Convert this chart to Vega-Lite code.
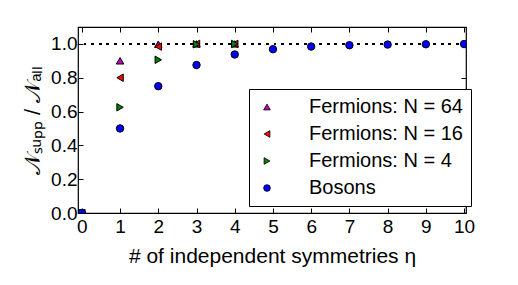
{
  "$schema": "https://vega.github.io/schema/vega-lite/v6.json",
  "autosize": "none",
  "width": 388,
  "height": 186,
  "padding": {"left": 78, "top": 27, "right": 52, "bottom": 72},
  "background": "white",
  "config": {
    "view": {"stroke": "black", "strokeWidth": 1.2},
    "font": "Liberation Sans",
    "axis": {
      "labelFont": "Liberation Sans",
      "titleFont": "Liberation Sans",
      "labelFontSize": 19,
      "titleFontSize": 21,
      "labelColor": "black",
      "titleColor": "black",
      "titleFontWeight": "normal",
      "domain": false,
      "grid": false,
      "tickColor": "black",
      "tickSize": -5,
      "tickWidth": 1
    }
  },
  "data": {
    "values": [
      {"eta": 0, "frac": 0, "series": "Fermions: N = 64"},
      {"eta": 1, "frac": 0.9, "series": "Fermions: N = 64"},
      {"eta": 2, "frac": 0.998, "series": "Fermions: N = 64"},
      {"eta": 3, "frac": 1.0, "series": "Fermions: N = 64"},
      {"eta": 4, "frac": 1.0, "series": "Fermions: N = 64"},
      {"eta": 0, "frac": 0, "series": "Fermions: N = 16"},
      {"eta": 1, "frac": 0.8, "series": "Fermions: N = 16"},
      {"eta": 2, "frac": 0.984, "series": "Fermions: N = 16"},
      {"eta": 3, "frac": 1.0, "series": "Fermions: N = 16"},
      {"eta": 4, "frac": 1.0, "series": "Fermions: N = 16"},
      {"eta": 0, "frac": 0, "series": "Fermions: N = 4"},
      {"eta": 1, "frac": 0.625, "series": "Fermions: N = 4"},
      {"eta": 2, "frac": 0.906, "series": "Fermions: N = 4"},
      {"eta": 3, "frac": 0.998, "series": "Fermions: N = 4"},
      {"eta": 4, "frac": 1.0, "series": "Fermions: N = 4"},
      {"eta": 0, "frac": 0, "series": "Bosons"},
      {"eta": 1, "frac": 0.5, "series": "Bosons"},
      {"eta": 2, "frac": 0.75, "series": "Bosons"},
      {"eta": 3, "frac": 0.875, "series": "Bosons"},
      {"eta": 4, "frac": 0.9375, "series": "Bosons"},
      {"eta": 5, "frac": 0.96875, "series": "Bosons"},
      {"eta": 6, "frac": 0.984375, "series": "Bosons"},
      {"eta": 7, "frac": 0.9921875, "series": "Bosons"},
      {"eta": 8, "frac": 0.99609375, "series": "Bosons"},
      {"eta": 9, "frac": 0.998046875, "series": "Bosons"},
      {"eta": 10, "frac": 0.9990234375, "series": "Bosons"}
    ]
  },
  "resolve": {"axis": {"x": "independent", "y": "independent"}},
  "layer": [
    {
      "mark": {"type": "rule", "color": "black", "strokeWidth": 2, "strokeDash": [2, 5.6]},
      "encoding": {"y": {"datum": 1, "type": "quantitative", "axis": null}}
    },
    {
      "mark": {"type": "point", "filled": true, "size": 55, "stroke": "black", "strokeWidth": 1, "opacity": 1, "clip": true},
      "encoding": {
        "x": {
          "field": "eta", "type": "quantitative",
          "scale": {"domain": [-0.1, 10.05], "nice": false, "zero": false},
          "axis": {"orient": "bottom", "values": [0,1,2,3,4,5,6,7,8,9,10], "format": "d", "labelPadding": 9, "labelFlush": false, "title": "# of independent symmetries η", "titlePadding": 9}
        },
        "y": {
          "field": "frac", "type": "quantitative",
          "scale": {"domain": [0, 1.1], "nice": false},
          "axis": {"orient": "left", "values": [0, 0.2, 0.4, 0.6, 0.8, 1.0], "format": ".1f", "labelPadding": 6, "labelFlush": false, "title": "𝒩ₛᵤₚₚ / 𝒩ₐₗₗ", "titleFontSize": 22, "titlePadding": 6}
        },
        "color": {
          "field": "series", "type": "nominal",
          "scale": {"domain": ["Fermions: N = 64", "Fermions: N = 16", "Fermions: N = 4", "Bosons"], "range": ["#bf00bf", "#ff0000", "#008000", "#0000ff"]},
          "legend": {
            "orient": "none", "legendX": 171, "legendY": 62, "title": null,
            "strokeColor": "black", "fillColor": "white", "padding": 8, "cornerRadius": 0,
            "labelFont": "Liberation Sans", "labelFontSize": 20, "labelColor": "black", "labelLimit": 400,
            "symbolSize": 45, "symbolStrokeColor": "black", "symbolStrokeWidth": 0.8, "labelOffset": 32, "rowPadding": 7
          }
        },
        "shape": {
          "field": "series", "type": "nominal",
          "scale": {"domain": ["Fermions: N = 64", "Fermions: N = 16", "Fermions: N = 4", "Bosons"], "range": ["triangle-up", "triangle-left", "triangle-right", "circle"]}
        }
      }
    },
    {
      "mark": {"type": "point", "opacity": 0},
      "encoding": {
        "x": {"field": "eta", "type": "quantitative", "axis": {"orient": "top", "values": [0,1,2,3,4,5,6,7,8,9,10], "labels": false, "title": null}},
        "y": {"field": "frac", "type": "quantitative", "axis": {"orient": "right", "values": [0, 0.2, 0.4, 0.6, 0.8, 1.0], "labels": false, "title": null}}
      }
    }
  ]
}
